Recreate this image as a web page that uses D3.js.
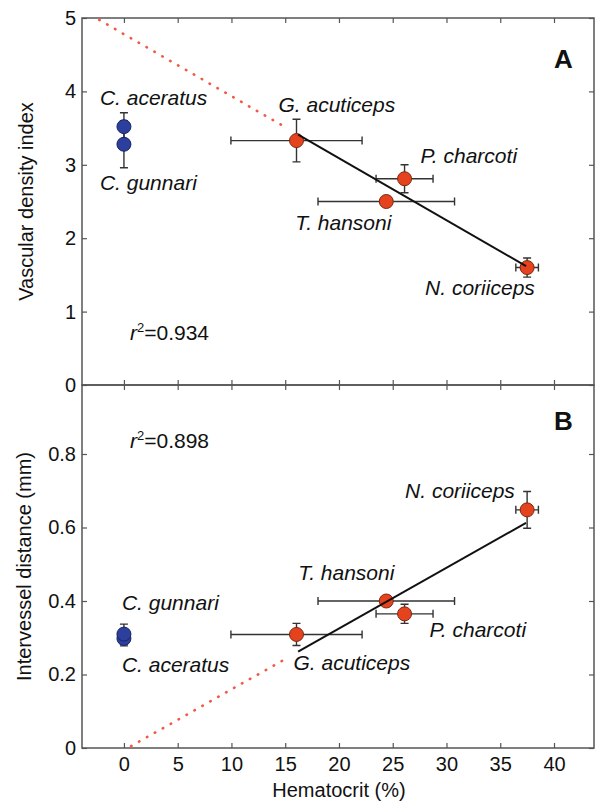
<!DOCTYPE html>
<html>
<head>
<meta charset="utf-8">
<script src="https://cdn.jsdelivr.net/npm/d3@7"></script>
<style>
  body { margin: 0; background: #fff; }
  svg { display: block; font-family: "Liberation Sans", Arial, Helvetica, sans-serif; }
  .tick text { font-size: 20px; fill: #111; }
  .tick line { stroke: #555; stroke-width: 1.2; }
  .lbl { font-size: 21px; font-style: italic; fill: #111; }
</style>
</head>
<body>
<script>
// - Hematocrit vs vascular density / intervessel distance -

// Data
var species = ["C. aceratus", "C. gunnari", "G. acuticeps", "P. charcoti", "T. hansoni", "N. coriiceps"];
var hct     = [0, 0, 16.05, 26.1, 24.4, 37.5];
var hctSd   = [0, 0, 6.1, 2.65, 6.35, 1.05];
var vdi     = [3.52, 3.28, 3.33, 2.81, 2.50, 1.60];
var vdiSd   = [0.19, 0.32, 0.29, 0.19, 0.04, 0.13];
var ivd     = [0.298, 0.31, 0.309, 0.365, 0.40, 0.648];
var ivdSd   = [0.02, 0.027, 0.03, 0.026, 0.008, 0.05];
var icefish = [true, true, false, false, false, false];

// regression fits (red-blooded species only)
var fitA = { a: 4.78, b: -0.0845, r2: "0.934" };
var fitB = { a: -0.006, b: 0.01654, r2: "0.898" };

var xTicks = [0, 5, 10, 15, 20, 25, 30, 35, 40];
var yTicksA = [0, 1, 2, 3, 4, 5];
var yTicksB = [0, 0.2, 0.4, 0.6, 0.8];

// Chart size
const W = 595, H = 803;
const left = 82, right = 594;
const topA = 18, botA = 385, botB = 748;

// label offsets from each point (px): [dx, dy]
var offA = [[-24, -22], [-24, 46], [-18, -29], [16, -16], [-91, 28], [-102, 27]];
var offB = [[-2, 34], [-2, -24], [-3, 36], [25, 23], [-88, -21], [-122, -12]];

const svg = d3.select("body").append("svg")
  .attr("width", W).attr("height", H);

const x = d3.scaleLinear().domain([-3.9, 43.72]).range([left, right]);
const yA = d3.scaleLinear().domain([0, 5]).range([botA, topA]);
const yB = d3.scaleLinear().domain([0, 1]).range([botB, botB - 367.5]);

function panel(y, yv, ysd, yTicks, fit, offs, letter, fmt, showX, top, bottom, letterY, r2Y, yLabel, yLabelX) {
  const g = svg.append("g");

  // frame
  g.append("rect")
    .attr("x", left).attr("y", top)
    .attr("width", right - left).attr("height", bottom - top)
    .attr("fill", "none").attr("stroke", "#555").attr("stroke-width", 1.5);

  // axes, ticks pointing inward
  const ax = [
    d3.axisLeft(y).tickValues(yTicks).tickSize(-5).tickSizeOuter(0).tickPadding(6).tickFormat(fmt),
  ];
  g.append("g").attr("transform", "translate(" + left + ",0)").call(ax[0]);
  g.append("g").attr("transform", "translate(" + right + ",0)")
    .call(d3.axisRight(y).tickValues(yTicks).tickSize(-5).tickSizeOuter(0).tickFormat(""));
  g.append("g").attr("transform", "translate(0," + bottom + ")")
    .call(d3.axisBottom(x).tickValues(xTicks).tickSize(-5).tickSizeOuter(0).tickPadding(9)
      .tickFormat(showX ? d3.format("d") : ""));
  g.append("g").attr("transform", "translate(0," + top + ")")
    .call(d3.axisTop(x).tickValues(xTicks).tickSize(-5).tickSizeOuter(0).tickFormat(""));
  g.selectAll(".domain").remove();

  // error bars
  const cap = 4;
  const eb = g.append("g").attr("stroke", "#333").attr("stroke-width", 1.4).attr("fill", "none");
  species.forEach((s, i) => {
    const cx = x(hct[i]), cy = y(yv[i]);
    const y0 = y(yv[i] - ysd[i]), y1 = y(yv[i] + ysd[i]);
    eb.append("path").attr("d",
      "M" + cx + "," + y0 + "V" + y1 +
      "M" + (cx - cap) + "," + y0 + "H" + (cx + cap) +
      "M" + (cx - cap) + "," + y1 + "H" + (cx + cap));
    if (hctSd[i] > 0) {
      const x0 = x(hct[i] - hctSd[i]), x1 = x(hct[i] + hctSd[i]);
      eb.append("path").attr("d",
        "M" + x0 + "," + cy + "H" + x1 +
        "M" + x0 + "," + (cy - cap) + "V" + (cy + cap) +
        "M" + x1 + "," + (cy - cap) + "V" + (cy + cap));
    }
  });

  // markers
  g.selectAll("circle.pt")
    .data(species)
    .enter()
    .append("circle")
    .attr("class", "pt")
    .attr("cx", (d, i) => x(hct[i]))
    .attr("cy", (d, i) => y(yv[i]))
    .attr("r", 7)
    .attr("fill", (d, i) => icefish[i] ? "#2c3f9c" : "#e4431d")
    .attr("stroke", (d, i) => icefish[i] ? "#1a2566" : "#7c2810")
    .attr("stroke-width", 1);

  // regression line, solid over the data range, dotted extrapolation
  const f = v => fit.a + fit.b * v;
  const x0 = fit.b < 0 ? -2.3 : -fit.a / fit.b + 0.3;
  g.append("line")
    .attr("x1", x(x0)).attr("y1", y(f(x0)))
    .attr("x2", x(15)).attr("y2", y(f(15)))
    .attr("stroke", "#ef5a47").attr("stroke-width", 2.6)
    .attr("stroke-linecap", "round")
    .attr("stroke-dasharray", "0.5,8.6");
  g.append("line")
    .attr("x1", x(16.2)).attr("y1", y(f(16.2)))
    .attr("x2", x(37.4)).attr("y2", y(f(37.4)))
    .attr("stroke", "#111").attr("stroke-width", 2);

  // species labels
  g.selectAll("text.lbl")
    .data(species)
    .enter()
    .append("text")
    .attr("class", "lbl")
    .attr("x", (d, i) => x(hct[i]) + offs[i][0])
    .attr("y", (d, i) => y(yv[i]) + offs[i][1])
    .text(d => d);

  // r squared
  const r = g.append("text").attr("x", 130).attr("y", r2Y)
    .attr("font-size", 21).attr("fill", "#111");
  r.append("tspan").attr("font-style", "italic").text("r");
  r.append("tspan").attr("font-size", 13).attr("dy", -8).text("2");
  r.append("tspan").attr("dy", 8).text("=" + fit.r2);

  // panel letter
  g.append("text").attr("x", 554).attr("y", letterY)
    .attr("font-size", 26).attr("font-weight", "bold").attr("fill", "#111")
    .text(letter);

  // y label
  g.append("text")
    .attr("transform", "translate(" + yLabelX + "," + ((top + bottom) / 2) + ") rotate(-90)")
    .attr("text-anchor", "middle")
    .attr("font-size", 20).attr("fill", "#111")
    .text(yLabel);
}

panel(yA, vdi, vdiSd, yTicksA, fitA, offA, "A", d3.format("d"), false,
      topA, botA, 68, 340, "Vascular density index", 33);
panel(yB, ivd, ivdSd, yTicksB, fitB, offB, "B", d => d === 0 ? "0" : d3.format(".1f")(d), true,
      botA, botB, 430, 448, "Intervessel distance (mm)", 31);

// x label
svg.append("text")
  .attr("x", x(20)).attr("y", 797)
  .attr("text-anchor", "middle")
  .attr("font-size", 20).attr("fill", "#111")
  .text("Hematocrit (%)");
</script>
</body>
</html>
